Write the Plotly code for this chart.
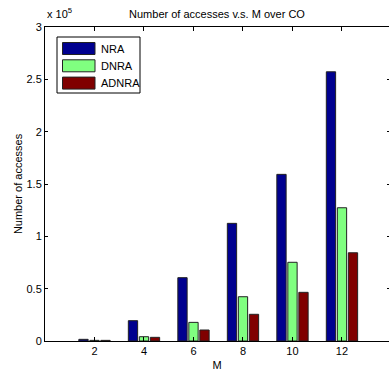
import plotly.graph_objects as go

# Number of accesses for each method as M grows
M = [2, 4, 6, 8, 10, 12]
NRA = [1600, 19400, 60500, 112400, 159200, 257200]
DNRA = [600, 4100, 17800, 42300, 75200, 127300]
ADNRA = [600, 3500, 10500, 25500, 46500, 84300]

series_names = ["NRA", "DNRA", "ADNRA"]
series_colors = ["#00008F", "#80FF80", "#800000"]
series_values = [NRA, DNRA, ADNRA]

y_ticks = [0, 50000, 100000, 150000, 200000, 250000, 300000]
y_ticklabels = ["0", "0.5", "1", "1.5", "2", "2.5", "3"]

W, H = 389, 374
L, R, T, B = 45, 0, 27, 33
FONT = "Liberation Sans, Arial, sans-serif"

fig = go.Figure()
for name, color, vals in zip(series_names, series_colors, series_values):
    fig.add_trace(go.Bar(
        x=M, y=vals, name=name,
        marker=dict(color=color, line=dict(color="#222222", width=1)),
        showlegend=False,
    ))

# invisible trace on a right-side axis to draw the mirrored y ticks
fig.add_trace(go.Scatter(x=[M[0]], y=[0], yaxis="y2", mode="markers",
                         marker=dict(opacity=0), showlegend=False, hoverinfo="skip"))

fig.update_layout(
    width=W, height=H,
    margin=dict(l=L, r=R, t=T, b=B, pad=0),
    paper_bgcolor="white", plot_bgcolor="white",
    font=dict(family=FONT, size=11, color="black"),
    barmode="group", bargap=0.333, bargroupgap=0.155,
    title=dict(text="Number of accesses v.s. M over CO", x=(L + (W - L) / 2) / W,
               xanchor="center", y=1 - 14 / H, yanchor="middle",
               font=dict(family=FONT, size=11, color="black")),
    xaxis=dict(range=[0, 13.9], tickvals=M, ticktext=[str(m) for m in M],
               ticks="inside", ticklen=4, tickcolor="black",
               showline=True, linecolor="black", linewidth=1, mirror="ticks",
               showgrid=False, zeroline=False,
               title=dict(text="M", standoff=5, font=dict(size=11))),
    yaxis=dict(range=[0, 300000], tickvals=y_ticks, ticktext=y_ticklabels,
               ticks="inside", ticklen=3, tickcolor="black",
               showline=True, linecolor="black", linewidth=1,
               showgrid=False, zeroline=False,
               title=dict(text="Number of accesses", standoff=1, font=dict(size=11))),
    yaxis2=dict(range=[0, 300000], tickvals=y_ticks, overlaying="y", side="right",
                ticks="inside", ticklen=2, tickcolor="black", showticklabels=False,
                showline=False, showgrid=False, zeroline=False),
)

# exponent label above the y axis
fig.add_annotation(text="x 10<sup>5</sup>", xref="paper", yref="paper",
                   x=0.0, y=1 + 5 / (H - T - B), xanchor="left", yanchor="bottom",
                   showarrow=False, font=dict(family=FONT, size=11, color="black"))

# legend box drawn in pixel-based paper coordinates
pw, ph = W - L - R, H - T - B
def px(xp):
    return (xp - L) / pw
def py(yp):
    return (H - B - yp) / ph

fig.add_shape(type="rect", xref="paper", yref="paper",
              x0=px(57), x1=px(140), y0=py(93), y1=py(37),
              line=dict(color="black", width=1), fillcolor="white")
for i, (name, color) in enumerate(zip(series_names, series_colors)):
    top = 42.5 + i * 17.3
    fig.add_shape(type="rect", xref="paper", yref="paper",
                  x0=px(62.5), x1=px(95), y0=py(top + 12), y1=py(top),
                  line=dict(color="#222222", width=1), fillcolor=color)
    fig.add_annotation(text=name, xref="paper", yref="paper",
                       x=px(99), y=py(top + 6), xanchor="left", yanchor="middle",
                       showarrow=False, font=dict(family=FONT, size=11, color="black"))

fig.write_html("out.html")
